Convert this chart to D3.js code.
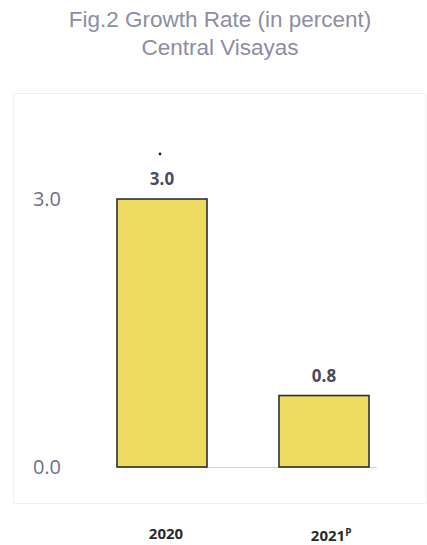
<!DOCTYPE html>
<html><head><meta charset="utf-8">
<script src="https://cdn.jsdelivr.net/npm/d3@7"></script>
<style>body{margin:0;background:#fff}svg{display:block}</style>
</head><body>
<script>
const categories = ["2020", "2021"];
const superscripts = ["", "P"];
const values = [3.0, 0.8];
const yTicks = [0.0, 3.0];
const titleLines = ["Fig.2 Growth Rate (in percent)", "Central Visayas"];

const W = 427, H = 545;
const svg = d3.select("body").append("svg").attr("width", W).attr("height", H);

// title
svg.selectAll("text.title").data(titleLines).join("text")
  .attr("class","title")
  .attr("x", 220).attr("y", (d,i)=>27 + i*28)
  .attr("text-anchor","middle")
  .attr("font-family","Liberation Sans, Arial, sans-serif")
  .attr("font-size", 22.5).attr("fill","#8d8da3")
  .text(d=>d);

// faint plot frame
svg.append("path").attr("d","M13.5,93.5 L426,93.5 L426,503.5 L13.5,503.5 Z")
  .attr("stroke","#f0f0f3").attr("stroke-width",1).attr("fill","none");

const x = d3.scaleBand().domain(categories).range([117, 369]).paddingInner(0.4444).paddingOuter(0);
const y = d3.scaleLinear().domain([0, 3]).range([467, 199]);

// baseline
svg.append("line").attr("x1",117).attr("x2",377).attr("y1",y(0)+0.5).attr("y2",y(0)+0.5)
  .attr("stroke","#d4d4de").attr("stroke-width",1);

// y axis labels
const yAxis = d3.axisLeft(y).tickValues(yTicks).tickFormat(d3.format(".1f")).tickSize(0).tickPadding(0);
const ya = svg.append("g").attr("transform","translate(61,0)").call(yAxis);
ya.select(".domain").remove();
ya.selectAll("text").attr("font-family","Open Sans, sans-serif").attr("font-size",20).attr("fill","#707084");

// bars
svg.selectAll("rect.bar").data(values).join("rect")
  .attr("class","bar")
  .attr("x",(d,i)=>x(categories[i]))
  .attr("width", x.bandwidth())
  .attr("y", d=>y(d))
  .attr("height", d=>y(0)-y(d))
  .attr("fill","#eedc62").attr("stroke","#2e2e2e").attr("stroke-width",1.6);

// value labels
svg.selectAll("text.val").data(values).join("text")
  .attr("class","val")
  .attr("x",(d,i)=>x(categories[i]) + x.bandwidth()/2)
  .attr("y", d=>y(d) - 14)
  .attr("text-anchor","middle")
  .attr("font-family","Open Sans, sans-serif")
  .attr("font-weight","bold").attr("font-size",17).attr("fill","#4b4b5a")
  .text(d=>d3.format(".1f")(d));

// stray dot above first bar
svg.append("circle").attr("cx", x(categories[0]) + x.bandwidth()/2 - 2).attr("cy", 154).attr("r",1.4).attr("fill","#222");

// x labels
const xl = svg.selectAll("text.xl").data(categories).join("text")
  .attr("class","xl")
  .attr("x",(d,i)=>x(d) + x.bandwidth()/2 + 4)
  .attr("y",(d,i)=> 539 + i*2)
  .attr("text-anchor","start")
  .attr("font-family","Open Sans, sans-serif")
  .attr("font-weight","bold").attr("font-size",15).attr("fill","#2a2a2a");
xl.text(d=>d);
xl.append("tspan").attr("font-size",10).attr("dy",-5).text((d,i)=>superscripts[i]);
xl.each(function(){
  const t = d3.select(this);
  const main = this.getSubStringLength(0, this.textContent.length - (this.textContent.endsWith("P")?1:0));
  t.attr("x", +t.attr("x") - main/2);
});
</script>
</body></html>
